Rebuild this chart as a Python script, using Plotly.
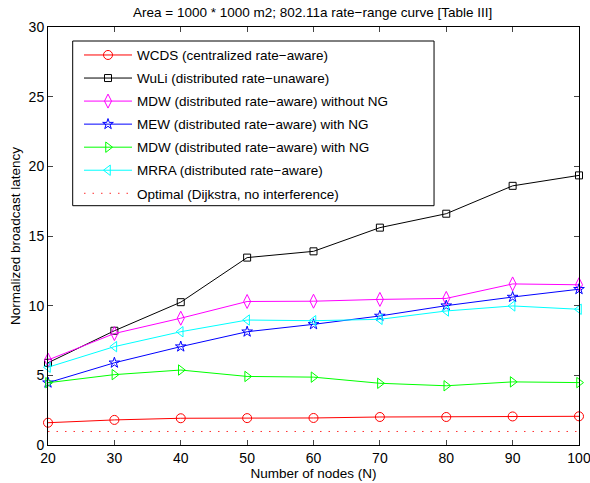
import plotly.graph_objects as go

nodes = [20, 30, 40, 50, 60, 70, 80, 90, 100]
wcds = [1.6, 1.8, 1.92, 1.93, 1.94, 2.01, 2.01, 2.05, 2.06]
wuli = [5.9, 8.2, 10.25, 13.45, 13.9, 15.6, 16.6, 18.6, 19.35]
mdw_no_ng = [6.1, 8.0, 9.1, 10.3, 10.32, 10.45, 10.52, 11.56, 11.5]
mew_ng = [4.47, 5.9, 7.06, 8.13, 8.66, 9.26, 10.0, 10.62, 11.18]
mdw_ng = [4.47, 5.05, 5.38, 4.92, 4.87, 4.43, 4.25, 4.53, 4.48]
mrra = [5.58, 7.06, 8.13, 8.97, 8.92, 9.02, 9.62, 9.98, 9.74]
optimal = [0.97, 0.97, 0.97, 0.97, 0.97, 0.97, 0.97, 0.97, 0.97]
y_ticks = [0, 5, 10, 15, 20, 25, 30]

series = [
    ("WCDS (centralized rate\u2212aware)", wcds, "#ff0000", "circle-open", 9),
    ("WuLi (distributed rate\u2212unaware)", wuli, "#000000", "square-open", 7),
    ("MDW (distributed rate\u2212aware) without NG", mdw_no_ng, "#ff00ff", "diamond-tall-open", 10),
    ("MEW (distributed rate\u2212aware) with NG", mew_ng, "#0000ff", "star-open", 8),
    ("MDW (distributed rate\u2212aware) with NG", mdw_ng, "#00ff00", "triangle-right-open", 9),
    ("MRRA (distributed rate\u2212aware)", mrra, "#00ffff", "triangle-left-open", 9),
]

fig = go.Figure()
for i, (name, vals, col, sym, sz) in enumerate(series):
    fig.add_trace(go.Scatter(
        x=nodes, y=vals, name=name, mode="lines+markers",
        line=dict(color=col, width=1),
        marker=dict(symbol=sym, size=sz, color=col, line=dict(color=col, width=1)),
        legendgroup="g%d" % i, cliponaxis=False,
    ))
fig.add_trace(go.Scatter(
    x=nodes, y=optimal, name="Optimal (Dijkstra, no interference)", mode="lines",
    line=dict(color="#ff3030", width=1, dash="1.5px,7px"), legendgroup="g7",
))

# legend frame (MATLAB legends are wider than their text)
fig.add_shape(type="rect", xref="paper", yref="paper",
              x0=0.0465, x1=0.727, y0=0.5725, y1=0.9665,
              line=dict(color="black", width=1), fillcolor="rgba(0,0,0,0)", layer="above")

font = "Liberation Sans, Arial, Helvetica, sans-serif"
fig.update_layout(
    width=590, height=483,
    margin=dict(l=48, r=11, t=27, b=38),
    paper_bgcolor="white", plot_bgcolor="white",
    font=dict(family=font, size=13.5, color="black"),
    title=dict(text="Area = 1000 * 1000 m2; 802.11a rate\u2212range curve [Table III]",
               x=0.53, xanchor="center", y=0.975, yanchor="middle",
               font=dict(size=13.5)),
    showlegend=True,
    legend=dict(x=0.0584, y=0.9696, xanchor="left", yanchor="top",
                borderwidth=0, bgcolor="rgba(255,255,255,0)",
                font=dict(size=13.5), itemwidth=48,
                traceorder="grouped", tracegroupgap=2.5),
    xaxis=dict(range=[20, 100], tickvals=nodes, ticks="inside", ticklen=5,
               showline=True, linecolor="black", linewidth=1, mirror="ticks",
               showgrid=False, zeroline=False, automargin=False,
               ticklabeloverflow="allow",
               tickfont=dict(size=14), title=dict(text="Number of nodes (N)", font=dict(size=13.5), standoff=1)),
    yaxis=dict(range=[0, 30], tickvals=y_ticks, ticks="inside", ticklen=5,
               showline=True, linecolor="black", linewidth=1, mirror="ticks",
               showgrid=False, zeroline=False, automargin=False,
               tickfont=dict(size=14), title=dict(text="Normalized broadcast latency", font=dict(size=13.5), standoff=4)),
)

fig.write_html("out.html", config={"displayModeBar": False},
               post_script="document.body.style.margin='0';document.body.style.overflow='hidden';")
